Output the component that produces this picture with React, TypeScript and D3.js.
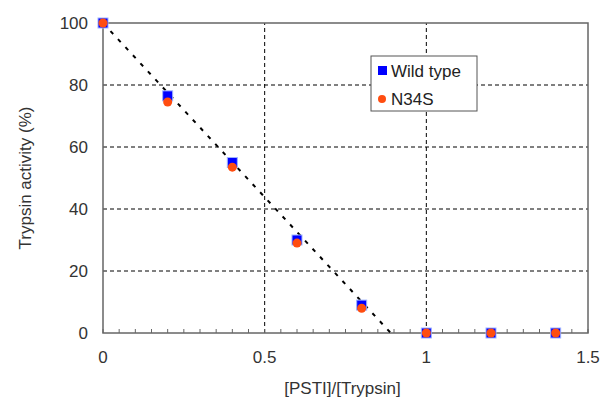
import React from "react";
import * as d3 from "d3";

const ratios = [0, 0.2, 0.4, 0.6, 0.8, 1.0, 1.2, 1.4];
const wildType = [100, 76.5, 55, 30, 9, 0, 0, 0];
const n34s = [100, 74.5, 53.5, 29, 8, 0, 0, 0];
const fitLine = [
  { x: 0, y: 100 },
  { x: 0.89, y: 0 },
];
const xTicks = [0, 0.5, 1, 1.5];
const yTicks = [0, 20, 40, 60, 80, 100];

export default function App() {
  const width = 602, height = 399;
  const x = d3.scaleLinear().domain([0, 1.5]).range([103, 588]);
  const y = d3.scaleLinear().domain([0, 100]).range([333, 23]);
  const font = "'Liberation Sans', Arial, sans-serif";
  const minor = d3.range(0, 1.5001, 0.05);
  const line = d3.line<{ x: number; y: number }>().x(d => x(d.x)).y(d => y(d.y));

  return (
    <svg width={width} height={height} style={{ position: "absolute", left: 0, top: 0 }}>
      <rect width={width} height={height} fill="#fff" />
      {yTicks.filter(t => t > 0 && t < 100).map(t => (
        <line key={"gy" + t} x1={x(0)} x2={x(1.5)} y1={y(t)} y2={y(t)}
          stroke="#000" strokeDasharray="4,3" strokeWidth={1} />
      ))}
      {xTicks.filter(t => t > 0 && t < 1.5).map(t => (
        <line key={"gx" + t} x1={x(t)} x2={x(t)} y1={y(0)} y2={y(100)}
          stroke="#000" strokeDasharray="4,3" strokeWidth={1} />
      ))}
      <rect x={x(0)} y={y(100)} width={x(1.5) - x(0)} height={y(0) - y(100)}
        fill="none" stroke="#666" strokeWidth={1.5} />
      {minor.map((t, i) => (
        <line key={"mt" + i} x1={x(t)} x2={x(t)} y1={y(0)} y2={y(0) - 4} stroke="#666" strokeWidth={1} />
      ))}
      <path d={line(fitLine) ?? ""} fill="none" stroke="#000" strokeWidth={2} strokeDasharray="4,7" />
      {ratios.map((r, i) => (
        <rect key={"wt" + i} x={x(r) - 5} y={y(wildType[i]) - 5} width={10} height={10}
          fill="#0000ff" stroke="#9fb3ff" strokeWidth={1} />
      ))}
      {ratios.map((r, i) => (
        <circle key={"n" + i} cx={x(r)} cy={y(n34s[i])} r={4.5} fill="#ff4d10" />
      ))}
      {yTicks.map(t => (
        <text key={"yl" + t} x={88} y={y(t)} dy="0.35em" textAnchor="end"
          fontFamily={font} fontSize={17} fill="#333">{t}</text>
      ))}
      {xTicks.map(t => (
        <text key={"xl" + t} x={x(t)} y={363} textAnchor="middle"
          fontFamily={font} fontSize={17} fill="#333">{t}</text>
      ))}
      <text x={x(0.75) - 3} y={394} textAnchor="middle" fontFamily={font} fontSize={17} fill="#333">[PSTI]/[Trypsin]</text>
      <text transform={`translate(31,${y(50)}) rotate(-90)`} textAnchor="middle"
        fontFamily={font} fontSize={17} fill="#333">Trypsin activity (%)</text>
      <g>
        <rect x={371} y={56} width={106} height={55} fill="#fff" stroke="#555" strokeWidth={1} />
        <rect x={378} y={66} width={9} height={9} fill="#0000ff" />
        <text x={391} y={77} fontFamily={font} fontSize={17} fill="#222">Wild type</text>
        <circle cx={382} cy={99} r={4} fill="#ff4d10" />
        <text x={391} y={105} fontFamily={font} fontSize={17} fill="#222">N34S</text>
      </g>
    </svg>
  );
}
